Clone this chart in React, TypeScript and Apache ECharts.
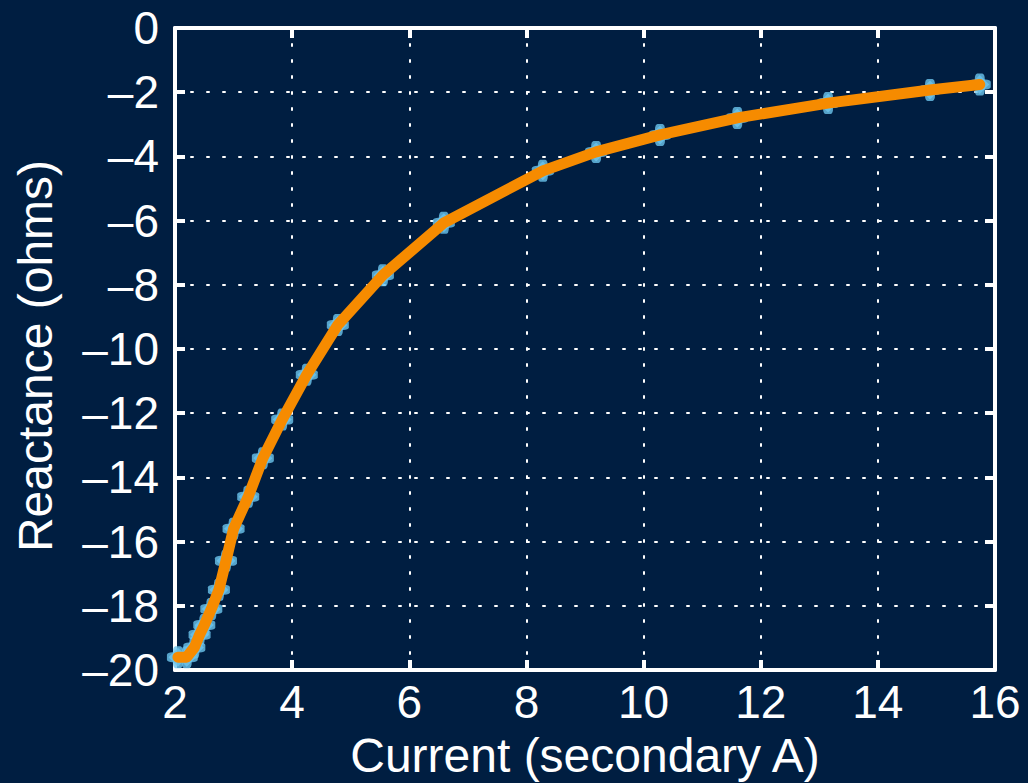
import React, { useEffect, useRef } from "react";
import * as echarts from "echarts";

const currentA = [2.05, 2.2, 2.33, 2.42, 2.5, 2.62, 2.75, 2.87, 3.0, 3.25, 3.5, 3.83, 4.25, 4.78, 5.55, 6.59, 8.28, 9.19, 10.28, 11.6, 13.15, 14.89, 15.74];
const reactance = [-19.6, -19.6, -19.3, -18.9, -18.6, -18.1, -17.5, -16.6, -15.6, -14.6, -13.4, -12.2, -10.8, -9.25, -7.7, -6.07, -4.45, -3.86, -3.33, -2.8, -2.34, -1.93, -1.76];
const xTitle = "Current (secondary A)";
const yTitle = "Reactance (ohms)";

const BG = "#001e41";
const FONT = "'Liberation Sans', Arial, sans-serif";
const MARK = "#6cc4ec";

const fmt = (v: number) => (v < 0 ? "\u2013" + Math.abs(v) : String(v));

export default function App() {
  const ref = useRef<HTMLDivElement>(null);
  useEffect(() => {
    if (!ref.current) return;
    const chart = echarts.init(ref.current, undefined, { renderer: "svg" });
    const pts = currentA.map((x, i) => [x, reactance[i]]);
    const gridLine = { show: true, lineStyle: { color: "#ffffff", width: 2, type: [2, 14] as any, cap: "round" } };
    const axLine = { show: true, lineStyle: { color: "#ffffff", width: 4 } };
    const tick = { show: true, inside: true, length: 10, lineStyle: { color: "#ffffff", width: 4 } };
    const markSeries = (size: any, symbol: string) => ({
      type: "scatter", data: pts, symbol, symbolSize: size,
      itemStyle: { color: MARK }, z: 2, silent: true,
    });
    chart.setOption({
      animation: false,
      backgroundColor: BG,
      grid: { left: 175, right: 33, top: 28, bottom: 113 },
      xAxis: [
        {
          type: "value", min: 2, max: 16, interval: 2, position: "bottom",
          axisLine: { ...axLine, onZero: false }, axisTick: tick, splitLine: gridLine,
          axisLabel: { color: "#ffffff", fontSize: 46, fontFamily: FONT, margin: 9, formatter: fmt },
        },
        {
          type: "value", min: 2, max: 16, interval: 2, position: "top",
          axisLine: { ...axLine, onZero: false }, axisTick: tick, splitLine: { show: false }, axisLabel: { show: false },
        },
      ],
      yAxis: [
        {
          type: "value", min: -20, max: 0, interval: 2, position: "left",
          axisLine: { ...axLine, onZero: false }, axisTick: tick, splitLine: gridLine,
          axisLabel: { color: "#ffffff", fontSize: 46, fontFamily: FONT, margin: 16, formatter: fmt },
        },
        {
          type: "value", min: -20, max: 0, interval: 2, position: "right",
          axisLine: { ...axLine, onZero: false }, axisTick: tick, splitLine: { show: false }, axisLabel: { show: false },
        },
      ],
      graphic: [
        {
          type: "text", x: 585, y: 755,
          style: { text: xTitle, fill: "#ffffff", font: `48px ${FONT}`, align: "center", verticalAlign: "middle" },
        },
        {
          type: "text", x: 35, y: 356, rotation: Math.PI / 2,
          style: { text: yTitle, fill: "#ffffff", font: `48px ${FONT}`, align: "center", verticalAlign: "middle" },
        },
      ],
      series: [
        markSeries([22, 10], "roundRect"),
        markSeries([10, 22], "roundRect"),
        markSeries(19, "diamond"),
        {
          type: "line", data: pts, showSymbol: false, symbol: "none",
          lineStyle: { color: "#f68b00", width: 11, cap: "round", join: "round" }, z: 3,
        },
      ],
    });
    return () => chart.dispose();
  }, []);
  return <div ref={ref} style={{ width: 1028, height: 783, position: "absolute", left: 0, top: 0 }} />;
}
